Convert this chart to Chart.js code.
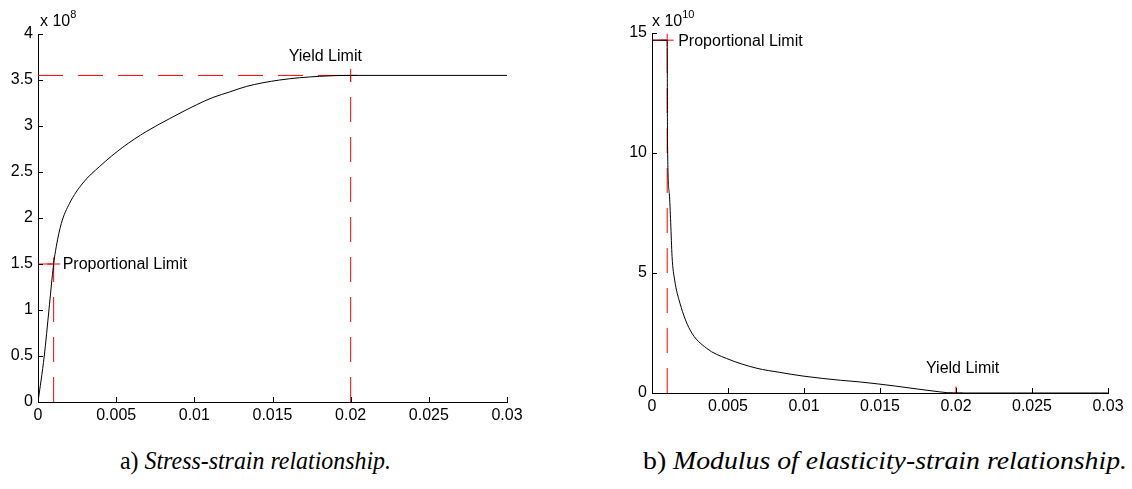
<!DOCTYPE html>
<html>
<head>
<meta charset="utf-8">
<script src="https://cdn.jsdelivr.net/npm/chart.js@4.4.0/dist/chart.umd.min.js"></script>
<style>
  body { margin: 0; background: #fff; width: 1132px; height: 489px; position: relative; overflow: hidden; }
  canvas { position: absolute; top: 0; }
  #chartA { left: 0; }
  #chartB { left: 600px; }
  .mult { position: absolute; font-family: "Liberation Sans", Arial, sans-serif; font-size: 16px; color: #000; }
  .mult sup { font-size: 11px; position: relative; top: -2px; }
  .caption { position: absolute; top: 447px; font-family: "Liberation Serif", "Times New Roman", serif; font-size: 25px; color: #000; white-space: nowrap; transform-origin: 0 50%; }
  .caption i { font-style: italic; }
</style>
</head>
<body>
<canvas id="chartA" width="530" height="440"></canvas>
<canvas id="chartB" width="532" height="440"></canvas>
<div class="mult" style="left:40px; top:10px;">x 10<sup>8</sup></div>
<div class="mult" style="left:652px; top:10px;">x 10<sup>10</sup></div>
<div class="caption" id="capA" style="left:120px;">a) <i>Stress-strain relationship.</i></div>
<div class="caption" id="capB" style="left:643px;">b) <i>Modulus of elasticity-strain relationship.</i></div>
<script>
// x axis (strain), shared by both plots
const xTickValues = [0, 0.005, 0.01, 0.015, 0.02, 0.025, 0.03];
const xTickLabels = ['0', '0.005', '0.01', '0.015', '0.02', '0.025', '0.03'];

// a) stress (x 10^8) vs strain
const strainA = [0, 0.0004, 0.0007, 0.001, 0.00117, 0.00149, 0.00202, 0.00287, 0.00394, 0.00543, 0.00693, 0.00842, 0.01013, 0.01119, 0.01226, 0.01333, 0.01546, 0.018, 0.02, 0.03];
const stressA = [0, 0.5, 1.0, 1.5, 1.69, 1.94, 2.16, 2.38, 2.56, 2.77, 2.94, 3.08, 3.23, 3.31, 3.37, 3.43, 3.50, 3.54, 3.55, 3.55];
const yTickValuesA = [0, 0.5, 1, 1.5, 2, 2.5, 3, 3.5, 4];
const yTickLabelsA = ['0', '0.5', '1', '1.5', '2', '2.5', '3', '3.5', '4'];

// b) modulus (x 10^10) vs strain
const strainB = [0, 0.001, 0.00102, 0.00114, 0.00123, 0.00132, 0.00149, 0.00184, 0.0025, 0.0036, 0.0049, 0.0069, 0.0084, 0.01, 0.0124, 0.0137, 0.016, 0.0189, 0.0198, 0.03];
const modulusB = [14.7, 14.7, 10.5, 8.3, 7.1, 5.68, 4.71, 3.74, 2.63, 1.86, 1.44, 1.03, 0.86, 0.70, 0.53, 0.46, 0.29, 0.05, 0, 0];
const yTickValuesB = [0, 5, 10, 15];
const yTickLabelsB = ['0', '5', '10', '15'];

// limit points [strain, value]
const propLimitA = [0.001, 1.5];
const yieldLimitA = [0.02, 3.55];
const propLimitB = [0.001, 14.7];
const yieldLimitB = [0.02, 0];

const FONT = { family: '"Liberation Sans", Arial, sans-serif', size: 16 };

function pts(xs, ys) {
    return xs.map((x, i) => ({ x: x, y: ys[i] }));
}

function dashed(a, b) {
    return {
        data: [{ x: a[0], y: a[1] }, { x: b[0], y: b[1] }],
        showLine: true,
        borderColor: '#ff0000',
        borderWidth: 1,
        borderDash: [25, 15],
        pointRadius: 0,
        fill: false
    };
}

// inward tick marks + limit labels
const extras = {
    id: 'extras',
    afterDatasetsDraw(chart, args, opts) {
        const ctx = chart.ctx;
        const xs = chart.scales.x, ys = chart.scales.y;
        const a = chart.chartArea;
        ctx.save();
        ctx.strokeStyle = '#000';
        ctx.lineWidth = 1;
        ctx.beginPath();
        xs.ticks.forEach(t => {
            const px = Math.round(xs.getPixelForValue(t.value)) + 0.5;
            ctx.moveTo(px, a.bottom);
            ctx.lineTo(px, a.bottom - 5);
        });
        ys.ticks.forEach(t => {
            const py = Math.round(ys.getPixelForValue(t.value)) + 0.5;
            ctx.moveTo(a.left, py);
            ctx.lineTo(a.left + 5, py);
        });
        ctx.stroke();
        ctx.fillStyle = '#000';
        ctx.font = '16px "Liberation Sans", Arial, sans-serif';
        ctx.textBaseline = 'middle';
        (opts.labels || []).forEach(l => {
            const px = xs.getPixelForValue(l.at[0]) + l.dx;
            const py = ys.getPixelForValue(l.at[1]) + l.dy;
            ctx.fillText(l.text, px, py);
        });
        ctx.restore();
    }
};

function makeChart(id, cfg) {
    return new Chart(document.getElementById(id), {
        type: 'scatter',
        data: {
            datasets: [
                {
                    data: cfg.curve,
                    showLine: true,
                    borderColor: '#000',
                    borderWidth: 1,
                    pointRadius: 0,
                    cubicInterpolationMode: 'monotone',
                    fill: false
                },
                ...cfg.lines,
                {
                    data: cfg.marks,
                    showLine: false,
                    pointStyle: 'cross',
                    pointRadius: 6.5,
                    pointHoverRadius: 6.5,
                    pointBorderColor: '#ff0000',
                    pointBorderWidth: 1
                }
            ]
        },
        options: {
            responsive: false,
            animation: false,
            events: [],
            layout: { padding: cfg.padding },
            plugins: {
                legend: { display: false },
                tooltip: { enabled: false },
                extras: { labels: cfg.labels }
            },
            scales: {
                x: {
                    type: 'linear',
                    min: 0,
                    max: 0.03,
                    afterBuildTicks: s => { s.ticks = xTickValues.map(v => ({ value: v })); },
                    afterFit: s => { s.height = cfg.xHeight; },
                    ticks: {
                        color: '#000',
                        font: FONT,
                        padding: 4,
                        maxRotation: 0,
                        callback: (v, i) => xTickLabels[i]
                    },
                    grid: { display: false, drawTicks: false },
                    border: { display: true, color: '#000', width: 1 }
                },
                y: {
                    type: 'linear',
                    min: cfg.yTicks[0],
                    max: cfg.yTicks[cfg.yTicks.length - 1],
                    afterBuildTicks: s => { s.ticks = cfg.yTicks.map(v => ({ value: v })); },
                    afterFit: s => { s.width = cfg.yWidth; },
                    ticks: {
                        color: '#000',
                        font: FONT,
                        padding: 5,
                        callback: (v, i) => cfg.yLabels[i]
                    },
                    grid: { display: false, drawTicks: false },
                    border: { display: true, color: '#000', width: 1 }
                }
            }
        },
        plugins: [extras]
    });
}

makeChart('chartA', {
    curve: pts(strainA, stressA),
    lines: [
        dashed([0, propLimitA[1]], propLimitA),
        dashed([propLimitA[0], 0], propLimitA),
        dashed([0, yieldLimitA[1]], yieldLimitA),
        dashed([yieldLimitA[0], 0], yieldLimitA)
    ],
    marks: [{ x: propLimitA[0], y: propLimitA[1] }, { x: yieldLimitA[0], y: yieldLimitA[1] }],
    yTicks: yTickValuesA,
    yLabels: yTickLabelsA,
    padding: { left: 0, right: 23, top: 34, bottom: 0 },
    yWidth: 38,
    xHeight: 38,
    labels: [
        { text: 'Proportional Limit', at: propLimitA, dx: 9, dy: 1 },
        { text: 'Yield Limit', at: yieldLimitA, dx: -62, dy: -19 }
    ]
});

makeChart('chartB', {
    curve: pts(strainB, modulusB),
    lines: [
        dashed([0, propLimitB[1]], propLimitB),
        dashed([propLimitB[0], 0], propLimitB)
    ],
    marks: [{ x: propLimitB[0], y: propLimitB[1] }, { x: yieldLimitB[0], y: yieldLimitB[1] }],
    yTicks: yTickValuesB,
    yLabels: yTickLabelsB,
    padding: { left: 0, right: 24, top: 33, bottom: 0 },
    yWidth: 52,
    xHeight: 47,
    labels: [
        { text: 'Proportional Limit', at: propLimitB, dx: 11, dy: 1 },
        { text: 'Yield Limit', at: yieldLimitB, dx: -30, dy: -24 }
    ]
});

// stretch captions to the widths they take in the figure
function fitCaption(id, width) {
    const el = document.getElementById(id);
    el.style.transform = 'scaleX(' + (width / el.getBoundingClientRect().width) + ')';
}
fitCaption('capA', 271);
fitCaption('capB', 484);
</script>
</body>
</html>
